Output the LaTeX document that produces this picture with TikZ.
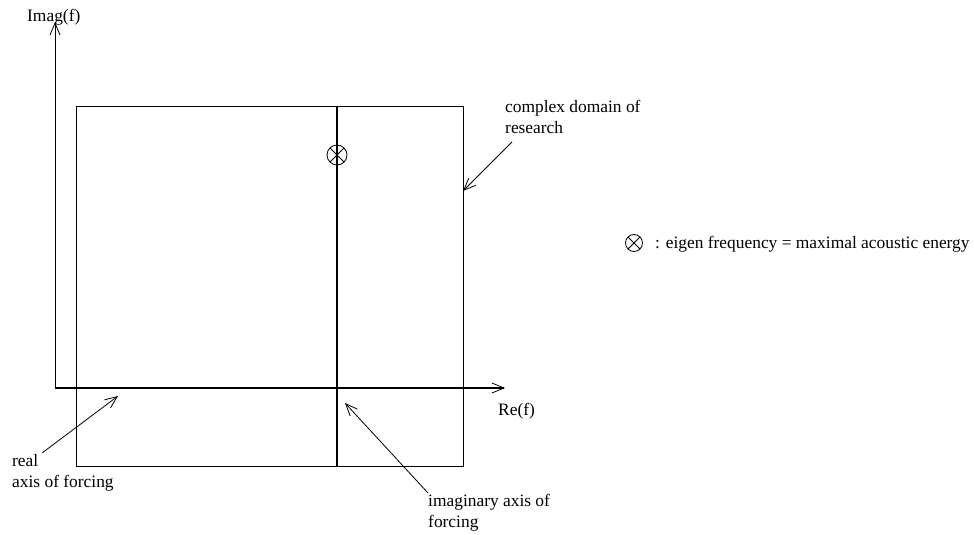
\documentclass[tikz,border=0pt]{standalone}
\usepackage{fontspec}
\setmainfont{Liberation Serif}
\usetikzlibrary{arrows.meta}
\begin{document}
\begin{tikzpicture}[x=1pt,y=-1pt,
  thinline/.style={line width=0.8pt},
  thickline/.style={line width=1.2pt},
  barb/.style={-{Straight Barb[length=12pt,width=10pt,line width=0.8pt]}},
  lbl/.style={font=\fontsize{17.4}{21}\selectfont, inner sep=0pt, anchor=base west, align=left},
  otimes/.style={circle, draw, line width=0.8pt, inner sep=0pt, minimum size=#1,
    path picture={\draw[line width=0.8pt]
      (path picture bounding box.north west) -- (path picture bounding box.south east)
      (path picture bounding box.north east) -- (path picture bounding box.south west);}}]
\useasboundingbox (0,0) rectangle (974,535);

% axes of the complex plane
\coordinate (O) at (55,388);
\coordinate (imtip) at (55,22);
\coordinate (retip) at (505,388);
\draw[thinline, barb] (O) -- (imtip);
\draw[thickline, barb] (O) -- (retip);
\node[lbl] (imlabel) at (27,22) {Imag(f)};
\node[lbl] (relabel) at (498,415) {Re(f)};

% search domain
\coordinate (dnw) at (76,106);
\coordinate (dse) at (463,466);
\draw[thinline] (dnw) rectangle (dse);

% imaginary axis of forcing
\coordinate (ftop) at (337,106);
\coordinate (fbot) at (337,466);
\draw[thickline] (ftop) -- (fbot);

% eigen frequency marker
\node[otimes=20pt] (eig) at (337,155) {};

% legend
\node[otimes=17pt] (legsym) at (634,243) {};
\node[lbl] (legtext) at (655,248) {: eigen frequency = maximal acoustic energy};

% annotations with pointers (node base = baseline of the last line)
\node[lbl] (domlabel) at (505,133) {complex domain of\\research};
\coordinate (domfrom) at (512,142);
\coordinate (domto) at (463,191);
\draw[thinline, barb] (domfrom) -- (domto);

\node[lbl] (reallabel) at (12,487) {real\\axis of forcing};
\coordinate (realfrom) at (42,453);
\coordinate (realto) at (118,396);
\draw[thinline, barb] (realfrom) -- (realto);

\node[lbl] (imaglabel) at (428,527) {imaginary axis of\\forcing};
\coordinate (imagfrom) at (428,493);
\coordinate (imagto) at (345,403);
\draw[thinline, barb] (imagfrom) -- (imagto);
\end{tikzpicture}
\end{document}
